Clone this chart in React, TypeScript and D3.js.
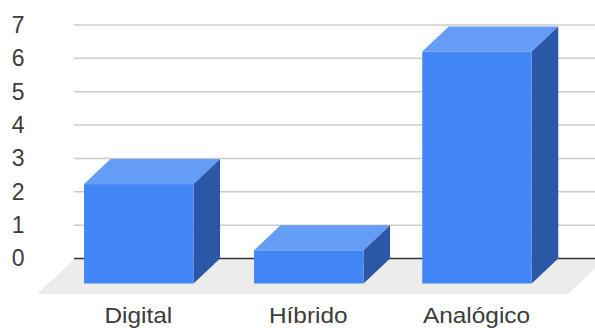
import React from "react";
import * as d3 from "d3";

const categories = ["Digital", "Híbrido", "Analógico"];
const values = [3, 1, 7];
const yTicks = [0, 1, 2, 3, 4, 5, 6, 7];

const WIDTH = 595;
const HEIGHT = 328;
const DEPTH_X = 26.5;
const DEPTH_Y = 25;
const BAR_WIDTH = 109.5;
const FONT = "'Liberation Sans', Arial, sans-serif";

export default function App() {
  // Grid lines sit on the back wall; bar heights use a slightly flatter perspective scale.
  const y = d3.scaleLinear().domain([0, 7]).range([258.5, 25]);
  const barHeight = d3.scaleLinear().domain([0, 7]).range([0, 232]);
  const x = d3.scaleOrdinal<string, number>().domain(categories).range([138.8, 308.8, 477]);
  const baseY = y(0);
  const floor = d3.line()([
    [75, baseY],
    [606, baseY],
    [568, baseY + 35.5],
    [37, baseY + 35.5],
  ]) + "Z";

  return (
    <svg
      width={WIDTH}
      height={HEIGHT}
      viewBox={`0 0 ${WIDTH} ${HEIGHT}`}
      style={{ position: "absolute", left: 0, top: 0, display: "block", background: "#fff" }}
    >
      <path d={floor} fill="#ececec" />
      {yTicks.map((t) => (
        <line
          key={t}
          x1={74}
          x2={WIDTH}
          y1={y(t)}
          y2={y(t)}
          stroke={t === 0 ? "#333333" : "#cccccc"}
          strokeWidth={t === 0 ? 1.3 : 1.5}
        />
      ))}
      {yTicks.map((t) => (
        <text
          key={t}
          x={24.5}
          y={y(t)}
          dy="0.34em"
          textAnchor="end"
          fontFamily={FONT}
          fontSize={23}
          fill="#3c3c3c"
        >
          {t}
        </text>
      ))}
      {categories.map((c, i) => {
        const left = x(c) - BAR_WIDTH / 2;
        const right = left + BAR_WIDTH;
        const bottom = baseY + DEPTH_Y;
        const top = bottom - barHeight(values[i]);
        const topFace = d3.line()([
          [left, top],
          [left + DEPTH_X, top - DEPTH_Y],
          [right + DEPTH_X, top - DEPTH_Y],
          [right, top],
        ]) + "Z";
        const sideFace = d3.line()([
          [right, top],
          [right + DEPTH_X, top - DEPTH_Y],
          [right + DEPTH_X, bottom - DEPTH_Y],
          [right, bottom],
        ]) + "Z";
        return (
          <g key={c}>
            <path d={topFace} fill="#659cf6" />
            <path d={sideFace} fill="#2b58a6" />
            <rect x={left} y={top} width={BAR_WIDTH} height={bottom - top} fill="#4285f4" />
          </g>
        );
      })}
      {categories.map((c) => (
        // Category labels are drawn a little wider than their natural proportions.
        <text
          key={c}
          transform={`translate(${x(c) - 0.5},323) scale(1.11,1)`}
          textAnchor="middle"
          fontFamily={FONT}
          fontSize={22}
          fill="#3c3c3c"
        >
          {c}
        </text>
      ))}
    </svg>
  );
}
